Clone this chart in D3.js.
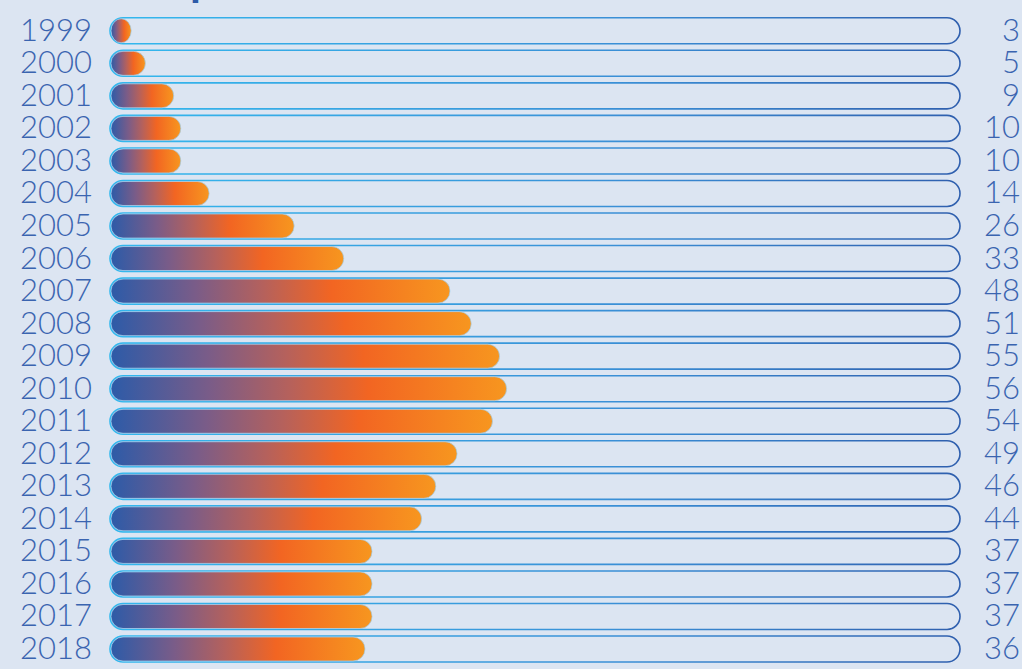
<!DOCTYPE html>
<html>
<head>
<meta charset="utf-8">
<script src="https://cdn.jsdelivr.net/npm/d3@7"></script>
<style>
  html, body { margin: 0; padding: 0; background: #dce5f2; }
  svg { display: block; }
</style>
</head>
<body>
<div id="chart"></div>
<script>
// data
const years = ["1999","2000","2001","2002","2003","2004","2005","2006","2007","2008",
               "2009","2010","2011","2012","2013","2014","2015","2016","2017","2018"];
const counts = [3, 5, 9, 10, 10, 14, 26, 33, 48, 51, 55, 56, 54, 49, 46, 44, 37, 37, 37, 36];
const maxValue = 120;

const W = 1022, H = 669;
const left = 110, right = 960;

const svg = d3.select("#chart")
  .append("svg")
  .attr("width", W)
  .attr("height", H);

svg.append("rect").attr("width", W).attr("height", H).attr("fill", "#dce5f2");

const defs = svg.append("defs");

// bar fill: blue -> orange
const barGrad = defs.append("linearGradient").attr("id", "barGrad")
  .attr("x1", "0%").attr("x2", "100%").attr("y1", "0%").attr("y2", "0%");
barGrad.append("stop").attr("offset", "0%").attr("stop-color", "#2d5ba8");
barGrad.append("stop").attr("offset", "25%").attr("stop-color", "#7a5c88");
barGrad.append("stop").attr("offset", "45%").attr("stop-color", "#b5615c");
barGrad.append("stop").attr("offset", "65%").attr("stop-color", "#f26522");
barGrad.append("stop").attr("offset", "100%").attr("stop-color", "#f7961f");

// track outline: cyan -> dark blue
const trackGrad = defs.append("linearGradient").attr("id", "trackGrad")
  .attr("gradientUnits", "userSpaceOnUse")
  .attr("x1", left).attr("x2", right).attr("y1", 0).attr("y2", 0);
trackGrad.append("stop").attr("offset", "0%").attr("stop-color", "#33b8ee");
trackGrad.append("stop").attr("offset", "60%").attr("stop-color", "#3a8fd6");
trackGrad.append("stop").attr("offset", "100%").attr("stop-color", "#2f5fae");

// title sits above the visible area, only the descender of "p" shows
const title = svg.append("text")
  .attr("x", 100)
  .attr("y", -4)
  .attr("font-family", "Lato, sans-serif")
  .attr("font-weight", 700)
  .attr("font-size", 44)
  .attr("fill", "#2d5ba8")
  .text("Output");
const pStart = title.node().getStartPositionOfChar(3).x;
title.attr("x", 100 + (190 - pStart));

const x = d3.scaleLinear().domain([0, maxValue]).range([left, right]);
const y = d3.scaleBand().domain(years).range([14.5, 14.5 + 32.54 * years.length]).paddingInner(0.2).paddingOuter(0.1);

const trackH = 26, barH = 24;

const rows = svg.selectAll(".row")
  .data(years.map((yr, i) => ({ year: yr, value: counts[i] })))
  .enter()
  .append("g")
  .attr("class", "row")
  .attr("transform", d => `translate(0,${y(d.year) + y.bandwidth() / 2})`);

rows.append("rect")
  .attr("x", x(0))
  .attr("y", -trackH / 2)
  .attr("width", x(maxValue) - x(0))
  .attr("height", trackH)
  .attr("rx", trackH / 2)
  .attr("fill", "none")
  .attr("stroke", "url(#trackGrad)")
  .attr("stroke-width", 1.6);

rows.append("rect")
  .attr("x", x(0) + 1)
  .attr("y", -barH / 2)
  .attr("width", d => Math.max(x(d.value) - x(0) - 1, barH * 0.8))
  .attr("height", barH)
  .attr("rx", barH / 2)
  .attr("fill", "url(#barGrad)")
  .attr("stroke", "#9fd0f0")
  .attr("stroke-opacity", 0.7)
  .attr("stroke-width", 1);

rows.append("text")
  .attr("x", 92)
  .attr("y", 10)
  .attr("text-anchor", "end")
  .attr("font-family", "Lato, sans-serif")
  .attr("font-weight", 300)
  .attr("font-size", 31)
  .attr("fill", "#3a64b0")
  .text(d => d.year);

rows.append("text")
  .attr("x", 1020)
  .attr("y", 10)
  .attr("text-anchor", "end")
  .attr("font-family", "Lato, sans-serif")
  .attr("font-weight", 300)
  .attr("font-size", 31)
  .attr("fill", "#3a64b0")
  .text(d => d.value);
</script>
</body>
</html>
